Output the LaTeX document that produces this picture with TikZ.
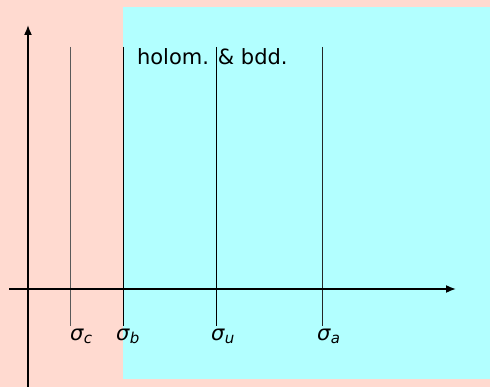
\documentclass[tikz,border=0pt]{standalone}
\usepackage{fontspec}
\setmainfont{DejaVu Sans}
\usetikzlibrary{arrows.meta}
\definecolor{bgpink}{RGB}{255,218,208}
\definecolor{bgcyan}{RGB}{178,255,255}
\newcommand{\siglab}[1]{\fontsize{21}{24}\selectfont\itshape σ\kern0.5pt\raisebox{-3pt}{\fontsize{15}{17}\selectfont #1}}
\begin{document}
\begin{tikzpicture}[x=1pt,y=-1pt,
  axis/.style={line width=1.6pt,-{Latex[length=10pt,width=8pt]}},
  lab/.style={anchor=base west,inner sep=0pt,outer sep=0pt}]
\useasboundingbox (0,0) rectangle (490,387);
\fill[bgpink] (0,0) rectangle (490,387);
\fill[bgcyan] (123,7) rectangle (490,379);
\coordinate (ys) at (28,387);
\coordinate (ye) at (28,25);
\coordinate (xs) at (9,289);
\coordinate (xe) at (456,289);
\foreach \n/\x/\c in {c/70/black!65,b/123/black,u/216/black,a/322/black!85}{
  \coordinate (t\n) at (\x,47);
  \coordinate (b\n) at (\x,326);
  \draw[line width=0.9pt,draw=\c] (t\n) -- (b\n);
}
\draw[axis] (xs) -- (xe);
\draw[axis] (ys) -- (ye);
\node[lab,font=\fontsize{21}{24}\selectfont] (hb) at (137,65) {holom. \& bdd.};
\node[lab] (lc) at (70,341) {\siglab{c}};
\node[lab] (lb) at (116,341) {\siglab{b}};
\node[lab] (lu) at (211,341) {\siglab{u}};
\node[lab] (la) at (317,341) {\siglab{a}};
\end{tikzpicture}
\end{document}
